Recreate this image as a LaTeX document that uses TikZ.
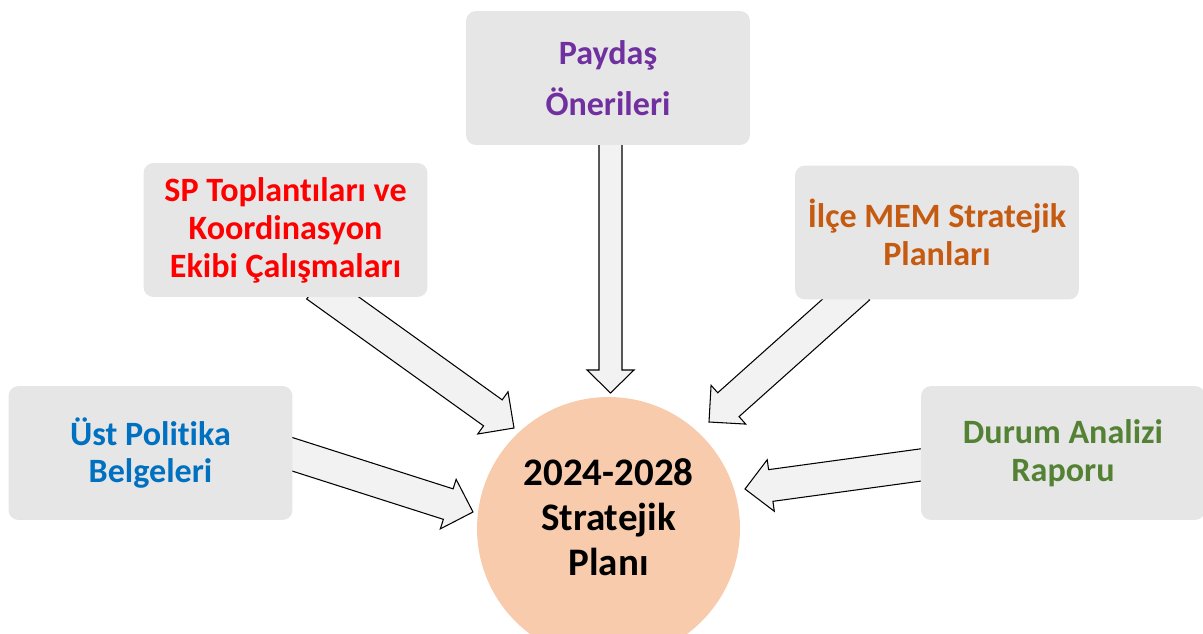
\documentclass[tikz,border=0pt]{standalone}
\usepackage{fontspec}
\setmainfont{Carlito}[Ligatures=NoCommon]
\usetikzlibrary{calc,backgrounds}

\definecolor{boxgray}{HTML}{E7E6E6}
\definecolor{arrowgray}{HTML}{F2F2F2}
\definecolor{planorange}{HTML}{F8CBAD}
\definecolor{paydaspurple}{HTML}{7030A0}
\definecolor{ilceorange}{HTML}{C55A11}
\definecolor{ustblue}{HTML}{0070C0}
\definecolor{durumgreen}{HTML}{548235}

\tikzset{
  box/.style={fill=boxgray, rounded corners=0.2cm, minimum width=5.68cm,
    minimum height=2.68cm, inner sep=0pt, align=center,
    font=\fontsize{19.4}{21.6}\selectfont\bfseries},
  plan/.style={circle, fill=planorange, minimum size=5.26cm, inner sep=0pt},
  plantext/.style={align=center, inner sep=0pt,
    font=\fontsize{22.2}{25.6}\selectfont\bfseries},
  barrow/.style={fill=arrowgray, draw=black, line width=0.6pt, line join=miter}
}

% block arrow: from, tip, half shaft, half head, head length
\newcommand{\blockarrow}[5]{%
  \coordinate (bh) at ($(#2)!#5!(#1)$);
  \draw[barrow] ($(#1)!#3!90:(#2)$) -- ($(bh)!#3!-90:(#1)$)
    -- ($(bh)!#4!-90:(#1)$) -- (#2) -- ($(bh)!#4!90:(#1)$)
    -- ($(bh)!#3!90:(#1)$) -- ($(#1)!#3!-90:(#2)$) -- cycle;
}

\begin{document}
\begin{tikzpicture}[x=0.02cm, y=-0.02cm]
  \useasboundingbox (0,0) rectangle (1203,633);

  \node[plan] (plan) at (608.5,528.5) {};
  \node[plantext] (plantxt) at ([yshift=6.3pt]plan.center) {2024-2028\\Stratejik\\Planı};

  \node[box, text=paydaspurple, font=\fontsize{19.4}{29}\selectfont\bfseries]
    (paydas) at (608,78) {Paydaş\\Önerileri};
  \node[box, text=red] (sp) at (285.5,230) {SP Toplantıları ve\\Koordinasyon\\Ekibi Çalışmaları};
  \node[box, text=ilceorange] (ilce) at (937,232.5) {İlçe MEM Stratejik\\Planları};
  \node[box, text=ustblue] (ust) at (150.5,453) {Üst Politika\\Belgeleri};
  \node[box, text=durumgreen] (durum) at (1063,453) {Durum Analizi\\Raporu};

  % arrow ends
  \coordinate (paydas-s) at (610.5,138);
  \coordinate (paydas-t) at (610.5,393);
  \coordinate (sp-s) at (316,286);
  \coordinate (sp-t) at (514,428);
  \coordinate (ilce-s) at (859,288);
  \coordinate (ilce-t) at (709,422);
  \coordinate (ust-s) at (282,451);
  \coordinate (ust-t) at (473,512);
  \coordinate (durum-s) at (935,463);
  \coordinate (durum-t) at (745,489);

  \begin{pgfonlayer}{background}
    \blockarrow{paydas-s}{paydas-t}{0.23cm}{0.47cm}{0.46cm}
    \blockarrow{sp-s}{sp-t}{0.32cm}{0.52cm}{0.52cm}
    \blockarrow{ilce-s}{ilce-t}{0.32cm}{0.52cm}{0.52cm}
    \blockarrow{ust-s}{ust-t}{0.32cm}{0.52cm}{0.52cm}
    \blockarrow{durum-s}{durum-t}{0.32cm}{0.52cm}{0.52cm}
  \end{pgfonlayer}
\end{tikzpicture}
\end{document}
